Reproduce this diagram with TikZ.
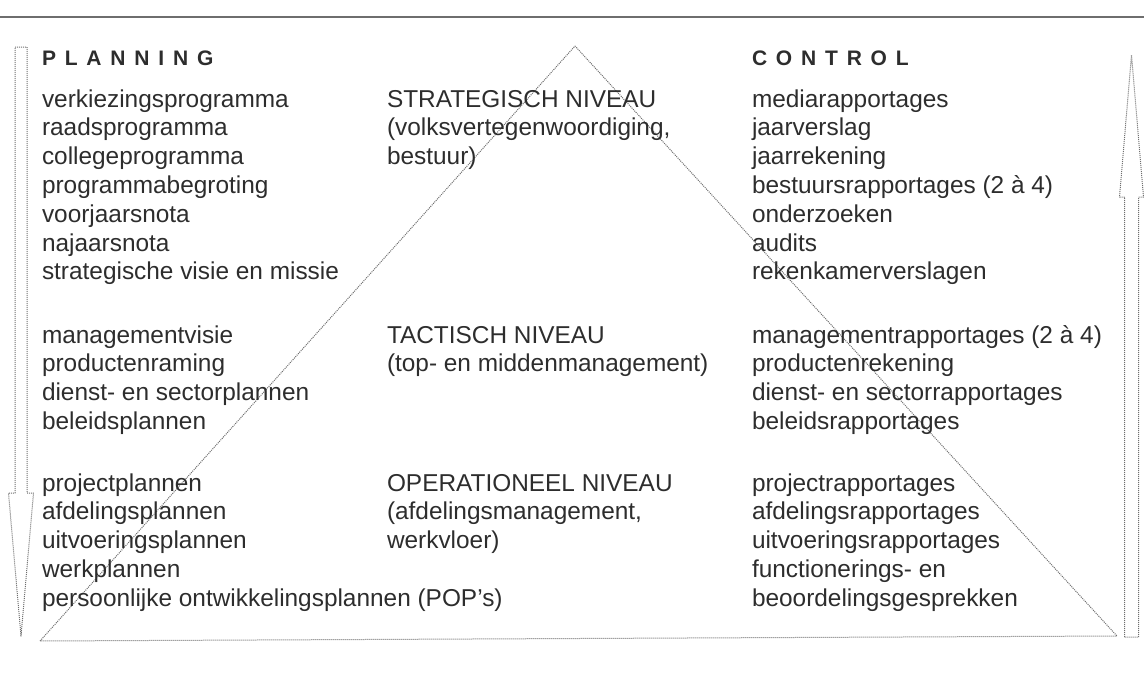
\documentclass[tikz,border=0pt]{standalone}
\usepackage{fontspec}
\setmainfont{Liberation Sans}
\newfontfamily\headfont{Liberation Sans Bold}[LetterSpace=42]
\definecolor{ink}{RGB}{45,45,45}
\definecolor{dotgray}{RGB}{110,110,110}
\definecolor{rulegray}{RGB}{110,110,110}
\newcommand{\lstack}[1]{\vtop{\baselineskip=28.8pt\lineskip=0pt\lineskiplimit=-50pt #1}}
\begin{document}
\begin{tikzpicture}[x=1pt,y=-1pt,
  txt/.style={anchor=base west, inner sep=0pt, outer sep=0pt, text=ink,
    font=\fontsize{24.4}{28.8}\selectfont},
  headtxt/.style={anchor=base west, inner sep=0pt, outer sep=0pt, text=ink,
    font=\headfont\fontsize{21}{24}\selectfont},
  dotln/.style={draw=dotgray, line width=1pt, dash pattern=on 1pt off 1pt, line join=round},
  rule/.style={draw=rulegray, line width=1.1pt}]
\useasboundingbox (0,0) rectangle (1144,680);
% top rule
\coordinate (rl) at (0,17);
\coordinate (rr) at (1144,17);
\draw[rule] (rl) -- (rr);
% pyramid
\coordinate (bl) at (40,641);
\coordinate (ap) at (575,46);
\coordinate (br) at (1117,636);
\draw[dotln] (bl) -- (ap) -- (br) -- cycle;
% left (downward) arrow
\draw[dotln] (15,47) -- (27,47) -- (27,493) -- (33.5,493) -- (21,636)
  -- (8.5,493) -- (15,493) -- cycle;
% right (upward) arrow
\draw[dotln] (1124.5,637) -- (1138.5,637) -- (1138.5,197) -- (1143.5,197)
  -- (1131.5,55) -- (1119.5,197) -- (1124.5,197) -- cycle;
% headings
\node[headtxt] (hplan) at (42,65) {PLANNING};
\node[headtxt] (hctrl) at (752,65) {CONTROL};
% left column
\node[txt] (l1) at (42,107) {\lstack{\hbox{verkiezingsprogramma}\hbox{raadsprogramma}\hbox{collegeprogramma}\hbox{programmabegroting}\hbox{voorjaarsnota}\hbox{najaarsnota}\hbox{strategische visie en missie}}};
\node[txt] (l2) at (42,343) {\lstack{\hbox{managementvisie}\hbox{productenraming}\hbox{dienst- en sectorplannen}\hbox{beleidsplannen}}};
\node[txt] (l3) at (42,491) {\lstack{\hbox{projectplannen}\hbox{afdelingsplannen}\hbox{uitvoeringsplannen}\hbox{werkplannen}\hbox{persoonlijke ontwikkelingsplannen (POP's)}}};
% middle column
\node[txt] (m1) at (387,107) {\lstack{\hbox{STRATEGISCH NIVEAU}\hbox{(volksvertegenwoordiging,}\hbox{bestuur)}}};
\node[txt] (m2) at (387,343) {\lstack{\hbox{TACTISCH NIVEAU}\hbox{(top- en middenmanagement)}}};
\node[txt] (m3) at (387,491) {\lstack{\hbox{OPERATIONEEL NIVEAU}\hbox{(afdelingsmanagement,}\hbox{werkvloer)}}};
% right column
\node[txt] (r1) at (752,107) {\lstack{\hbox{mediarapportages}\hbox{jaarverslag}\hbox{jaarrekening}\hbox{bestuursrapportages (2 à 4)}\hbox{onderzoeken}\hbox{audits}\hbox{rekenkamerverslagen}}};
\node[txt] (r2) at (752,343) {\lstack{\hbox{managementrapportages (2 à 4)}\hbox{productenrekening}\hbox{dienst- en sectorrapportages}\hbox{beleidsrapportages}}};
\node[txt] (r3) at (752,491) {\lstack{\hbox{projectrapportages}\hbox{afdelingsrapportages}\hbox{uitvoeringsrapportages}\hbox{functionerings- en}\hbox{beoordelingsgesprekken}}};
\end{tikzpicture}
\end{document}
